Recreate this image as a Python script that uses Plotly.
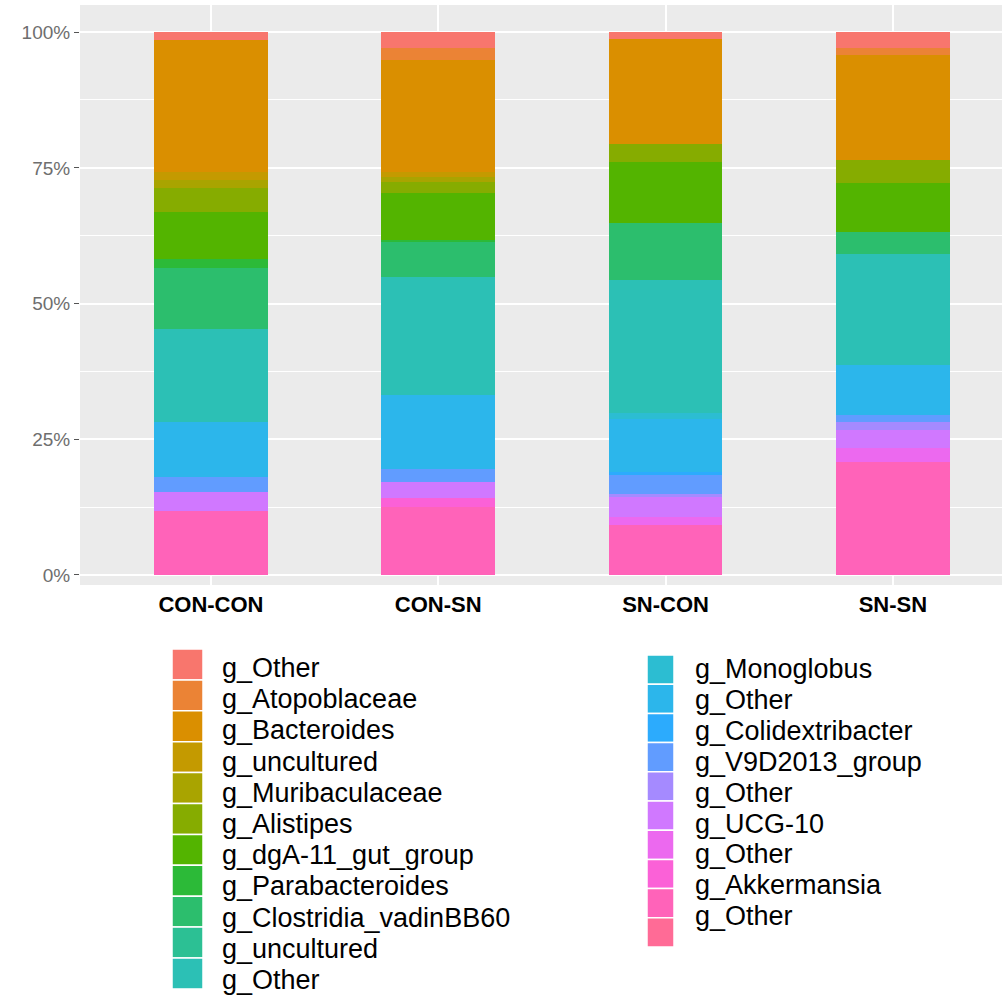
import math
import plotly.graph_objects as go

# Samples (x categories)
samples = ["CON-CON", "CON-SN", "SN-CON", "SN-SN"]

# Relative abundance (%) per genus, one value per sample
other_a = [1.5, 3.0, 1.2, 3.0]
atopoblaceae = [0.0, 2.2, 0.0, 1.2]
bacteroides = [24.2, 20.5, 19.4, 19.4]
uncultured_a = [1.6, 1.0, 0.0, 0.0]
muribaculaceae = [1.5, 0.9, 0.0, 0.0]
alistipes = [4.3, 2.1, 3.3, 4.2]
dga11_gut_group = [8.6, 8.6, 11.2, 9.0]
parabacteroides = [1.8, 0.3, 0.0, 0.0]
clostridia_vadinbb60 = [11.1, 6.5, 10.6, 4.0]
uncultured_b = [0.0, 0.0, 0.0, 0.0]
other_b = [17.2, 21.8, 24.5, 20.5]
monoglobus = [0.0, 0.0, 1.0, 0.0]
other_c = [10.1, 13.5, 9.8, 9.2]
colidextribacter = [0.0, 0.0, 0.6, 0.0]
v9d2013_group = [2.9, 2.4, 3.4, 1.3]
other_d = [0.0, 0.0, 0.7, 1.5]
ucg_10 = [3.5, 3.1, 3.6, 3.4]
other_e = [0.0, 0.0, 1.5, 2.4]
akkermansia = [0.0, 1.5, 0.0, 0.0]
other_f = [11.7, 12.6, 9.2, 20.9]
other_g = [0.0, 0.0, 0.0, 0.0]

# Genus levels in legend order (first level stacks on top)
genus_names = [
    "g_Other", "g_Atopoblaceae", "g_Bacteroides", "g_uncultured",
    "g_Muribaculaceae", "g_Alistipes", "g_dgA-11_gut_group",
    "g_Parabacteroides", "g_Clostridia_vadinBB60", "g_uncultured",
    "g_Other", "g_Monoglobus", "g_Other", "g_Colidextribacter",
    "g_V9D2013_group", "g_Other", "g_UCG-10", "g_Other",
    "g_Akkermansia", "g_Other", "g_Other",
]
genus_values = [
    other_a, atopoblaceae, bacteroides, uncultured_a, muribaculaceae,
    alistipes, dga11_gut_group, parabacteroides, clostridia_vadinbb60,
    uncultured_b, other_b, monoglobus, other_c, colidextribacter,
    v9d2013_group, other_d, ucg_10, other_e, akkermansia, other_f, other_g,
]

# Legend text, two columns
legend_left = ["g_Other", "g_Atopoblaceae", "g_Bacteroides", "g_uncultured",
               "g_Muribaculaceae", "g_Alistipes", "g_dgA-11_gut_group",
               "g_Parabacteroides", "g_Clostridia_vadinBB60", "g_uncultured",
               "g_Other"]
legend_right = ["g_Monoglobus", "g_Other", "g_Colidextribacter",
                "g_V9D2013_group", "g_Other", "g_UCG-10", "g_Other",
                "g_Akkermansia", "g_Other"]

y_ticks = [0, 25, 50, 75, 100]


def hcl_hex(h, c=100.0, l=65.0):
    """Polar LUV (HCL) to sRGB hex, as used by ggplot2's hue palette."""
    xn, yn, zn = 95.047, 100.0, 108.883
    hr = math.radians(h)
    u, v = c * math.cos(hr), c * math.sin(hr)
    y = yn * (((l + 16) / 116) ** 3 if l > 8 else l / 903.3)
    un = 4 * xn / (xn + 15 * yn + 3 * zn)
    vn = 9 * yn / (xn + 15 * yn + 3 * zn)
    uu = u / (13 * l) + un
    vv = v / (13 * l) + vn
    x = 9.0 * y * uu / (4 * vv)
    z = -x / 3 - 5 * y + 3 * y / vv
    x, y, z = x / 100, y / 100, z / 100
    r = 3.240479 * x - 1.537150 * y - 0.498535 * z
    g = -0.969256 * x + 1.875992 * y + 0.041556 * z
    b = 0.055648 * x - 0.204043 * y + 1.057311 * z

    def gam(t, floor=0):
        t = 1.055 * t ** (1 / 2.4) - 0.055 if t > 0.0031308 else 12.92 * t
        return max(floor, min(255, round(t * 255)))

    # the red channel of the green/cyan hues is lifted slightly
    return "#{:02X}{:02X}{:02X}".format(gam(r, 44), gam(g), gam(b))


n_levels = len(genus_names)
palette = [hcl_hex(15 + i * 360 / n_levels) for i in range(n_levels)]

fig = go.Figure()
# Add from the last level to the first so the first level sits on top
for i in reversed(range(n_levels)):
    fig.add_trace(go.Bar(
        x=samples, y=genus_values[i], name=genus_names[i],
        marker=dict(color=palette[i], line=dict(width=0)),
        width=0.5, showlegend=False,
    ))

W, H = 1002, 1000
ML, MR, MT, MB = 80, 0, 5, 415
pw, ph = W - ML - MR, H - MT - MB


def px(xp):
    return (xp - ML) / pw


def py(yp):
    return (H - MB - yp) / ph


font_family = "Liberation Sans, Arial, sans-serif"
shapes = []
annotations = []

# Left legend column: 11 keys
lx0, lx1, ly0, lstep = 172, 203, 649, 30.9
for i, lab in enumerate(legend_left):
    shapes.append(dict(type="rect", xref="paper", yref="paper",
                       x0=px(lx0), x1=px(lx1),
                       y0=py(ly0 + i * lstep), y1=py(ly0 + (i + 1) * lstep),
                       fillcolor=palette[i], line=dict(color="white", width=1.5)))
    annotations.append(dict(xref="paper", yref="paper", x=px(220),
                            y=py(668 + i * 31.2), text=lab, showarrow=False,
                            xanchor="left", yanchor="middle",
                            font=dict(family=font_family, size=27, color="black")))

# Right legend column: 10 keys, 9 labels
rx0, rx1, ry0, rstep = 647, 674, 655, 29.2
for j in range(n_levels - len(legend_left)):
    k = len(legend_left) + j
    shapes.append(dict(type="rect", xref="paper", yref="paper",
                       x0=px(rx0), x1=px(rx1),
                       y0=py(ry0 + j * rstep), y1=py(ry0 + (j + 1) * rstep),
                       fillcolor=palette[k], line=dict(color="white", width=1.5)))
for j, lab in enumerate(legend_right):
    annotations.append(dict(xref="paper", yref="paper", x=px(693),
                            y=py(669 + j * 30.9), text=lab, showarrow=False,
                            xanchor="left", yanchor="middle",
                            font=dict(family=font_family, size=27, color="black")))

fig.update_layout(
    width=W, height=H,
    margin=dict(l=ML, r=MR, t=MT, b=MB),
    paper_bgcolor="white", plot_bgcolor="#EBEBEB",
    barmode="stack", bargap=0,
    shapes=shapes, annotations=annotations,
    font=dict(family=font_family),
)
fig.update_xaxes(
    range=[-0.576, 3.48], showgrid=True, gridcolor="white", gridwidth=1.6,
    zeroline=False, ticks="",
    tickfont=dict(family=font_family, size=22, color="black", weight="bold"),
    ticklabelstandoff=4, showline=False,
)
fig.update_yaxes(
    range=[-1.85, 105], tickvals=y_ticks, ticktext=[f"{t}%" for t in y_ticks],
    showgrid=True, gridcolor="white", gridwidth=1.6, zeroline=False,
    ticks="outside", ticklen=5, tickcolor="#555555",
    tickfont=dict(family=font_family, size=19, color="#6E6E6E"),
    minor=dict(tickvals=[12.5, 37.5, 62.5, 87.5], showgrid=True,
               gridcolor="white", gridwidth=0.8, ticks=""),
    showline=False,
)

fig.write_html("out.html")
